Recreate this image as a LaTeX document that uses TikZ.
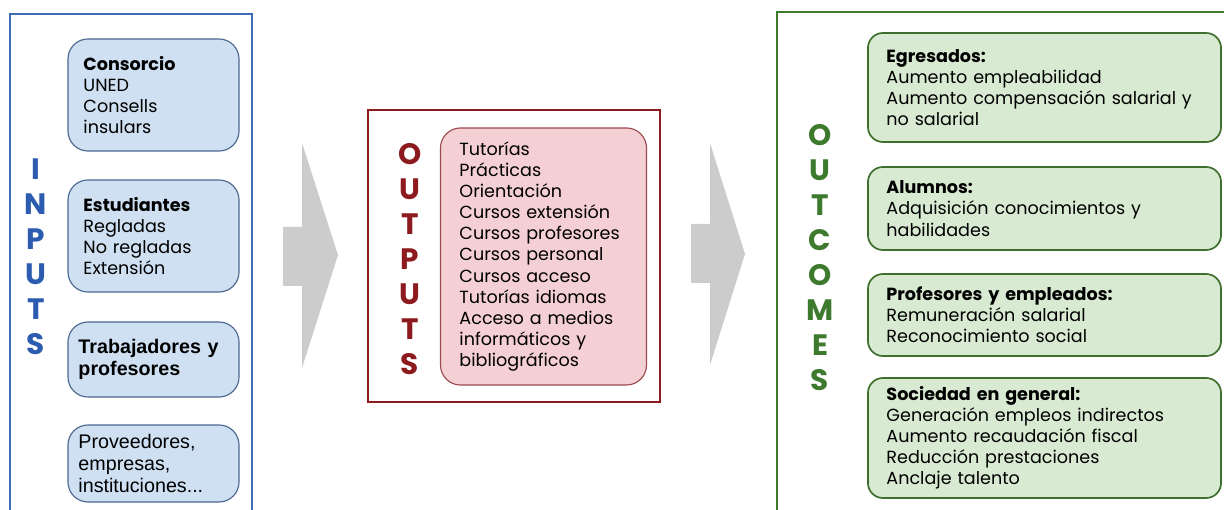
\documentclass[tikz,border=0pt]{standalone}
\usepackage{fontspec}
\setmainfont{Poppins}
\newfontfamily\arialfont{Liberation Sans}
\usetikzlibrary{positioning}

\definecolor{inblue}{HTML}{3A6DB5}
\definecolor{inletter}{HTML}{2B5CB0}
\definecolor{infill}{HTML}{CFE0F3}
\definecolor{inedge}{HTML}{4A6690}
\definecolor{outred}{HTML}{8C1A1F}
\definecolor{outfill}{HTML}{F4CFD3}
\definecolor{outedge}{HTML}{9C4A50}
\definecolor{ocgreen}{HTML}{3E7A2E}
\definecolor{ocfill}{HTML}{D9EAD3}
\definecolor{ocedge}{HTML}{3F6F2C}
\definecolor{arrowgrey}{HTML}{CCCCCC}

\begin{document}
\begin{tikzpicture}[x=0.025cm,y=-0.025cm,
    body/.style={font=\fontsize{12.5}{15}\selectfont},
    arial body/.style={font=\arialfont\fontsize{14}{15.6}\selectfont,
                       text width=3.75cm,inner xsep=0.2625cm},
    letters/.style={align=center,font=\fontsize{21}{24.9}\selectfont\bfseries},
    in box/.style={draw=inedge,fill=infill,thick,rounded corners=0.5cm,
                   minimum width=4.275cm,text width=3.5cm,inner xsep=0.375cm,
                   align=left,body},
    out box/.style={draw=outedge,fill=outfill,thick,rounded corners=0.5cm,
                    minimum width=5.075cm,minimum height=6.425cm,text width=4.2cm,
                    inner xsep=0.475cm,align=left,body},
    oc box/.style={draw=ocedge,fill=ocfill,very thick,rounded corners=0.375cm,
                   minimum width=8.825cm,text width=7.9cm,inner xsep=0.425cm,
                   align=left,body},
    flow/.style={fill=arrowgrey}]
\useasboundingbox (0,0) rectangle (1224,510);

% INPUTS
\draw[inblue,very thick] (10,510) -- (10,14) -- (252,14) -- (252,510);
\node[letters,text=inletter] (inlabel) at (36,256.5) {I\\N\\P\\U\\T\\S};
\node[in box,minimum height=2.8cm] (consorcio) at (153.5,95)
  {\textbf{Consorcio}\\UNED\\Consells\\insulars};
\node[in box,minimum height=2.8cm] (estudiantes) at (153.5,236)
  {\textbf{Estudiantes}\\Regladas\\No regladas\\Extensión};
\node[in box,minimum height=1.875cm,arial body] (trabajadores) at (153.5,359.5)
  {\textbf{Trabajadores y\\profesores}};
\node[in box,minimum height=1.925cm,arial body] (proveedores) at (153.5,463.5)
  {Proveedores,\\empresas,\\instituciones...};

% arrows
\fill[flow] (283,227) -- (302,227) -- (302,143) -- (338,255) -- (302,368) -- (302,286) -- (283,286) -- cycle;
\fill[flow] (691,224) -- (710,224) -- (710,143) -- (745,254) -- (710,365) -- (710,283) -- (691,283) -- cycle;

% OUTPUTS
\draw[outred,very thick] (368,110) rectangle (660,402);
\node[letters,text=outred] (outlabel) at (410,259.5) {O\\U\\T\\P\\U\\T\\S};
\node[out box] (actividades) at (543.5,256.5)
  {Tutorías\\Prácticas\\Orientación\\Cursos extensión\\Cursos profesores\\Cursos personal\\Cursos acceso\\Tutorías idiomas\\Acceso a medios\\informáticos y\\bibliográficos};

% OUTCOMES
\draw[ocgreen,very thick] (777,510) -- (777,12) -- (1230,12);
\node[letters,text=ocgreen] (oclabel) at (820,257.5) {O\\U\\T\\C\\O\\M\\E\\S};
\node[oc box,minimum height=2.725cm] (egresados) at (1044.5,87.5)
  {\textbf{Egresados:}\\Aumento empleabilidad\\Aumento compensación salarial y\\no salarial};
\node[oc box,minimum height=2.075cm] (alumnos) at (1044.5,208.5)
  {\textbf{Alumnos:}\\Adquisición conocimientos y\\habilidades};
\node[oc box,minimum height=2.05cm] (profesores) at (1044.5,315)
  {\textbf{Profesores y empleados:}\\Remuneración salarial\\Reconocimiento social};
\node[oc box,minimum height=3cm] (sociedad) at (1044.5,438)
  {\textbf{Sociedad en general:}\\Generación empleos indirectos\\Aumento recaudación fiscal\\Reducción prestaciones\\Anclaje talento};
\end{tikzpicture}
\end{document}
